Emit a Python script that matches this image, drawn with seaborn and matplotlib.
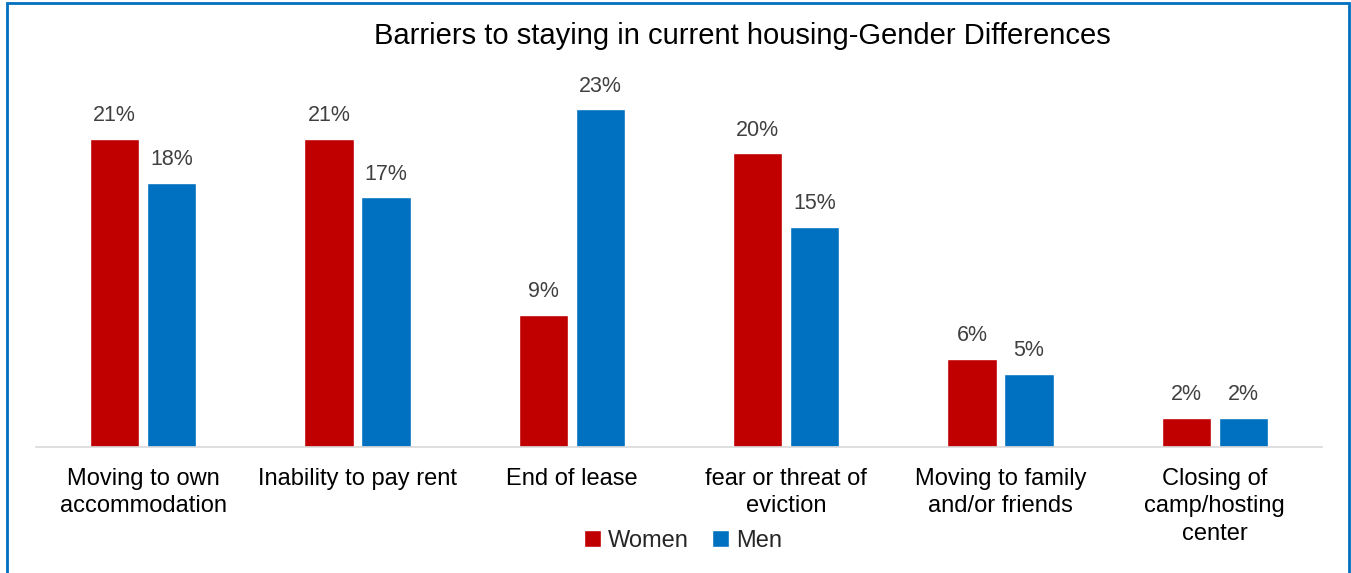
import pandas as pd
import matplotlib.pyplot as plt
import seaborn as sns
from matplotlib.patches import Rectangle

# Chart data
categories = ['Moving to own\naccommodation', 'Inability to pay rent', 'End of lease',
              'fear or threat of\neviction', 'Moving to family\nand/or friends',
              'Closing of\ncamp/hosting\ncenter']
women = [21, 21, 9, 20, 6, 2]
men = [18, 17, 23, 15, 5, 2]
groups = ['Women', 'Men']

df = pd.DataFrame({
    'category': categories * 2,
    'value': women + men,
    'gender': ['Women'] * len(women) + ['Men'] * len(men),
})

sns.set_style('white')
plt.rcParams['font.family'] = ['Liberation Sans', 'DejaVu Sans']

fig = plt.figure(figsize=(13.51, 5.73), dpi=100)
ax = fig.add_axes([36 / 1351, 126 / 573, (1322 - 36) / 1351, (447 - 80) / 573])

sns.barplot(data=df, x='category', y='value', hue='gender', hue_order=groups,
            palette={'Women': '#C00000', 'Men': '#0070C0'}, saturation=1,
            width=0.53, gap=0.13, ax=ax, legend=True)

for cont in ax.containers:
    ax.bar_label(cont, labels=[f'{v:.0f}%' for v in cont.datavalues], padding=9,
                 fontsize=15.5, color='#404040')

ax.set_ylim(0, 25)
ax.set_xlim(-0.5, len(categories) - 0.5)
ax.set_xlabel('')
ax.set_ylabel('')
ax.set_yticks([])
ax.tick_params(axis='x', length=0, labelsize=17, pad=15, colors='#000000')
for lbl in ax.get_xticklabels():
    lbl.set_linespacing(1.32)
for side in ['top', 'right', 'left']:
    ax.spines[side].set_visible(False)
ax.spines['bottom'].set_color('#D9D9D9')
ax.spines['bottom'].set_linewidth(1.2)

ax.legend(loc='center', bbox_to_anchor=(683 / 1351, 1 - 541 / 573),
          bbox_transform=fig.transFigure, ncol=2, frameon=False, fontsize=17,
          handlelength=0.7, handleheight=0.7, handletextpad=0.3, columnspacing=1.0)

fig.text(742 / 1351, 1 - 36 / 573, 'Barriers to staying in current housing-Gender Differences',
         ha='center', va='center', fontsize=21, color='#000000')

fig.patches.append(Rectangle((7 / 1351, -0.01), (1349 - 7) / 1351, 1 - 3 / 573 + 0.01,
                             transform=fig.transFigure, fill=False,
                             edgecolor='#0070C0', linewidth=2))

fig.savefig('out.png', dpi=100)
